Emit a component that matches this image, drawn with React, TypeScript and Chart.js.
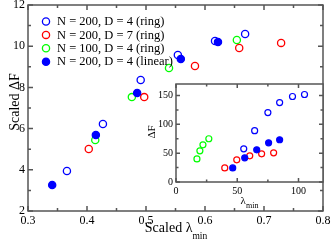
import React, { useEffect, useRef } from 'react';
import { Chart, registerables } from 'chart.js';

Chart.register(...registerables);

const SERIF = "'Liberation Serif', 'Times New Roman', serif";

// ---- series meta ----
const seriesLabels = [
  'N = 200, D = 4 (ring)',
  'N = 200, D = 7 (ring)',
  'N = 100, D = 4 (ring)',
  'N = 200, D = 4 (linear)',
];
const seriesColors = ['#0000ff', '#ff0000', '#00ff00', '#0000ff'];
const seriesFilled = [false, false, false, true];

// ---- main panel: Scaled lambda_min vs Scaled dF ----
const mainN200D4RingX = [0.366, 0.427, 0.491, 0.554, 0.617, 0.668];
const mainN200D4RingY = [3.94, 6.22, 8.36, 9.57, 10.25, 10.59];
const mainN200D7RingX = [0.403, 0.497, 0.583, 0.658, 0.729];
const mainN200D7RingY = [5.01, 7.53, 9.04, 9.91, 10.16];
const mainN100D4RingX = [0.414, 0.476, 0.539, 0.654];
const mainN100D4RingY = [5.45, 7.53, 8.94, 10.3];
const mainN200D4LinX = [0.341, 0.415, 0.485, 0.559, 0.622];
const mainN200D4LinY = [3.26, 5.69, 7.73, 9.38, 10.2];

// ---- inset: lambda_min vs dF ----
const insetN200D4RingX = [55.3, 64.2, 75, 84.6, 95.1, 104.9];
const insetN200D4RingY = [57.6, 89, 120.4, 137.8, 148.3, 151.8];
const insetN200D7RingX = [39.8, 49.6, 60.2, 69.9, 79.7];
const insetN200D7RingY = [24.4, 38.4, 45.4, 48.8, 50.6];
const insetN100D4RingX = [17.1, 19.5, 22, 26.8];
const insetN100D4RingY = [40.1, 54, 64.5, 75];
const insetN200D4LinX = [46.3, 56.1, 65.9, 75.6, 84.6];
const insetN200D4LinY = [24.4, 41.9, 55.8, 68, 73.3];

// ---- axes ----
const mainXRange = [0.3, 0.8];
const mainYRange = [2, 12];
const mainXMajor = 0.1;
const mainYMajor = 2;
const insetXRange = [0, 120];
const insetYRange = [0, 170];
const insetXMajor = 50;
const insetYMajor = 50;

const mainXTitle = ['Scaled λ', 'min'];
const mainYTitle = 'Scaled ΔF';
const insetXTitle = ['λ', 'min'];
const insetYTitle = 'ΔF';

const toPts = (xs: number[], ys: number[]) => xs.map((x, i) => ({ x, y: ys[i] }));

const mainSeries = [
  toPts(mainN200D4RingX, mainN200D4RingY),
  toPts(mainN200D7RingX, mainN200D7RingY),
  toPts(mainN100D4RingX, mainN100D4RingY),
  toPts(mainN200D4LinX, mainN200D4LinY),
];
const insetSeries = [
  toPts(insetN200D4RingX, insetN200D4RingY),
  toPts(insetN200D7RingX, insetN200D7RingY),
  toPts(insetN100D4RingX, insetN100D4RingY),
  toPts(insetN200D4LinX, insetN200D4LinY),
];

const makeDatasets = (series: { x: number; y: number }[][], r: number, bw: number) =>
  series.map((data, i) => ({
    label: seriesLabels[i],
    data,
    showLine: false,
    pointRadius: r,
    pointHoverRadius: r,
    borderWidth: bw,
    pointBorderWidth: bw,
    borderColor: seriesColors[i],
    backgroundColor: seriesFilled[i] ? seriesColors[i] : 'rgba(0,0,0,0)',
    order: seriesFilled[i] ? 0 : i + 1,
  }));

// ---- plugins ----
const framePlugin = {
  id: 'frame',
  beforeDraw(chart: any, _a: any, opts: any) {
    if (!opts.fill) return;
    const { ctx, chartArea: a } = chart;
    ctx.save();
    ctx.fillStyle = opts.fill;
    ctx.fillRect(a.left, a.top, a.right - a.left, a.bottom - a.top);
    ctx.restore();
  },
  afterDraw(chart: any, _a: any, opts: any) {
    const { ctx, chartArea: a, scales } = chart;
    ctx.save();
    ctx.strokeStyle = opts.color;
    ctx.lineWidth = opts.width;
    ctx.beginPath();
    const each = (scale: any, major: number, cb: (px: number, len: number) => void) => {
      const minor = major / 2;
      const n = Math.floor((scale.max - scale.min) / minor + 1e-6);
      for (let i = 0; i <= n; i++) {
        const v = scale.min + i * minor;
        const q = v / major;
        const isMajor = Math.abs(q - Math.round(q)) < 1e-6;
        cb(scale.getPixelForValue(v), isMajor ? opts.majorLen : opts.minorLen);
      }
    };
    each(scales.x, opts.xMajor, (px, len) => {
      ctx.moveTo(px, a.bottom);
      ctx.lineTo(px, a.bottom - len);
      ctx.moveTo(px, a.top);
      ctx.lineTo(px, a.top + len);
    });
    each(scales.y, opts.yMajor, (py, len) => {
      ctx.moveTo(a.left, py);
      ctx.lineTo(a.left + len, py);
      ctx.moveTo(a.right, py);
      ctx.lineTo(a.right - len, py);
    });
    ctx.stroke();
    ctx.strokeRect(a.left, a.top, a.right - a.left, a.bottom - a.top);
    ctx.restore();
  },
};

const titlesPlugin = {
  id: 'titles',
  afterDraw(chart: any, _a: any, opts: any) {
    const ctx = chart.ctx;
    for (const t of opts.items) {
      ctx.save();
      ctx.translate(t.x, t.y);
      if (t.rotate) ctx.rotate(-Math.PI / 2);
      ctx.fillStyle = '#000';
      ctx.textBaseline = 'alphabetic';
      ctx.textAlign = 'left';
      ctx.font = `${t.size}px ${SERIF}`;
      const w1 = ctx.measureText(t.text).width;
      let w2 = 0;
      if (t.sub) {
        ctx.font = `${t.subSize}px ${SERIF}`;
        w2 = ctx.measureText(t.sub).width;
      }
      const x0 = -(w1 + w2) / 2;
      ctx.font = `${t.size}px ${SERIF}`;
      ctx.fillText(t.text, x0, 0);
      if (t.sub) {
        ctx.font = `${t.subSize}px ${SERIF}`;
        ctx.fillText(t.sub, x0 + w1, t.subShift);
      }
      ctx.restore();
    }
  },
};

const legendPlugin = {
  id: 'customLegend',
  afterDraw(chart: any, _a: any, opts: any) {
    if (!opts.show) return;
    const ctx = chart.ctx;
    ctx.save();
    chart.data.datasets.forEach((ds: any, i: number) => {
      const y = opts.y0 + i * opts.dy;
      ctx.beginPath();
      ctx.arc(opts.markerX, y, opts.r, 0, Math.PI * 2);
      ctx.fillStyle = ds.backgroundColor;
      ctx.fill();
      ctx.lineWidth = opts.bw;
      ctx.strokeStyle = ds.borderColor;
      ctx.stroke();
      ctx.fillStyle = '#000';
      ctx.font = `${opts.size}px ${SERIF}`;
      ctx.textBaseline = 'middle';
      ctx.textAlign = 'left';
      ctx.fillText(ds.label, opts.textX, y + 0.5);
    });
    ctx.restore();
  },
};

const fixSize = (prop: 'width' | 'height', val: number) => (s: any) => {
  s[prop] = val;
  s.paddingTop = 0;
  s.paddingBottom = 0;
  s.paddingLeft = 0;
  s.paddingRight = 0;
};

const axisFont = (size: number) => ({ family: SERIF, size });

function mainConfig(): any {
  return {
    type: 'scatter',
    data: { datasets: makeDatasets(mainSeries, 3.6, 1.3) },
    plugins: [framePlugin, titlesPlugin, legendPlugin],
    options: {
      animation: false,
      responsive: false,
      devicePixelRatio: 1,
      events: [],
      layout: { padding: { top: 5, right: 9, left: 0, bottom: 0 } },
      scales: {
        x: {
          type: 'linear',
          position: 'bottom',
          min: mainXRange[0],
          max: mainXRange[1],
          grid: { display: false, drawTicks: false },
          border: { display: false },
          ticks: {
            stepSize: mainXMajor,
            font: axisFont(12),
            color: '#000',
            padding: 3,
            maxRotation: 0,
            autoSkip: false,
            callback: (v: any) => Number(v).toFixed(1),
          },
          afterFit: fixSize('height', 31),
        },
        y: {
          type: 'linear',
          position: 'left',
          min: mainYRange[0],
          max: mainYRange[1],
          grid: { display: false, drawTicks: false },
          border: { display: false },
          ticks: {
            stepSize: mainYMajor,
            font: axisFont(12),
            color: '#000',
            padding: 3,
            autoSkip: false,
            callback: (v: any) => String(Math.round(Number(v))),
          },
          afterFit: fixSize('width', 28),
        },
      },
      plugins: {
        legend: { display: false },
        tooltip: { enabled: false },
        frame: { color: '#555', width: 1.5, majorLen: 5, minorLen: 3, xMajor: mainXMajor, yMajor: mainYMajor },
        titles: {
          items: [
            { text: mainXTitle[0], sub: mainXTitle[1], x: 176, y: 232, size: 14, subSize: 9.5, subShift: 7 },
            { text: mainYTitle, x: 19, y: 102, size: 14, rotate: true },
          ],
        },
        customLegend: { show: true, markerX: 46, textX: 57, y0: 21.5, dy: 13.4, r: 3.6, bw: 1.3, size: 12.5 },
      },
    },
  };
}

function insetConfig(): any {
  return {
    type: 'scatter',
    data: { datasets: makeDatasets(insetSeries, 3.0, 1.2) },
    plugins: [framePlugin, titlesPlugin],
    options: {
      animation: false,
      responsive: false,
      devicePixelRatio: 1,
      events: [],
      layout: { padding: { top: 8, right: 9, left: 0, bottom: 0 } },
      scales: {
        x: {
          type: 'linear',
          position: 'bottom',
          min: insetXRange[0],
          max: insetXRange[1],
          grid: { display: false, drawTicks: false },
          border: { display: false },
          ticks: {
            stepSize: insetXMajor,
            includeBounds: false,
            font: axisFont(10),
            color: '#000',
            padding: 3,
            maxRotation: 0,
            autoSkip: false,
          },
          afterFit: fixSize('height', 34),
        },
        y: {
          type: 'linear',
          position: 'left',
          min: insetYRange[0],
          max: insetYRange[1],
          grid: { display: false, drawTicks: false },
          border: { display: false },
          ticks: {
            stepSize: insetYMajor,
            includeBounds: false,
            font: axisFont(10),
            color: '#000',
            padding: 3,
            autoSkip: false,
          },
          afterFit: fixSize('width', 36),
        },
      },
      plugins: {
        legend: { display: false },
        tooltip: { enabled: false },
        frame: { fill: '#fff', color: '#555', width: 1.5, majorLen: 4, minorLen: 2.5, xMajor: insetXMajor, yMajor: insetYMajor },
        titles: {
          items: [
            { text: insetXTitle[0], sub: insetXTitle[1], x: 109.5, y: 128, size: 11, subSize: 8, subShift: 4 },
            { text: insetYTitle, x: 15, y: 56, size: 11, rotate: true },
          ],
        },
      },
    },
  };
}

export default function App() {
  const mainRef = useRef<HTMLCanvasElement>(null);
  const insetRef = useRef<HTMLCanvasElement>(null);
  useEffect(() => {
    const main = new Chart(mainRef.current as HTMLCanvasElement, mainConfig());
    const inset = new Chart(insetRef.current as HTMLCanvasElement, insetConfig());
    return () => {
      main.destroy();
      inset.destroy();
    };
  }, []);
  return (
    <div style={{ position: 'fixed', left: 0, top: 0, width: 332, height: 242, background: '#fff', overflow: 'hidden' }}>
      <canvas ref={mainRef} width={332} height={242} style={{ position: 'absolute', left: 0, top: 0 }} />
      <canvas ref={insetRef} width={192} height={140} style={{ position: 'absolute', left: 140, top: 76 }} />
    </div>
  );
}
